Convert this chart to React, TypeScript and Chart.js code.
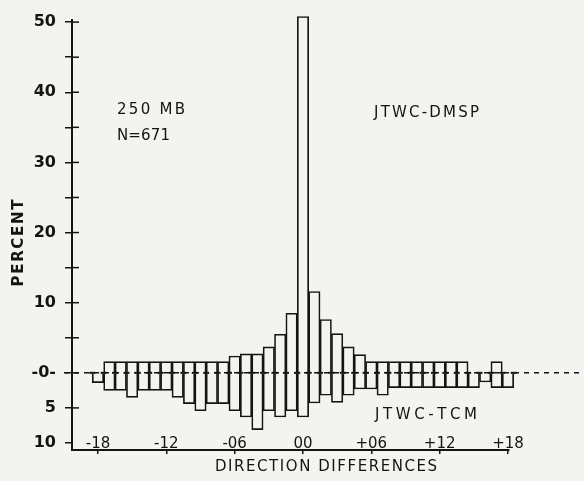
import React, { useEffect, useRef } from "react";
import { Chart, registerables } from "chart.js";

Chart.register(...registerables);

// Direction-difference bins
const bins = [
  -18, -17, -16, -15, -14, -13, -12, -11, -10, -9, -8, -7, -6, -5, -4, -3, -2, -1, 0,
  1, 2, 3, 4, 5, 6, 7, 8, 9, 10, 11, 12, 13, 14, 15, 16, 17, 18,
];

// JTWC-DMSP percent (drawn upward)
const dmspPercent = [
  0, 1.6, 1.6, 1.6, 1.6, 1.6, 1.6, 1.6, 1.6, 1.6, 1.6, 1.6, 2.4, 2.7, 2.7, 3.7, 5.5, 8.5, 50.8,
  11.6, 7.6, 5.6, 3.7, 2.6, 1.6, 1.6, 1.6, 1.6, 1.6, 1.6, 1.6, 1.6, 1.6, 0, 0, 1.6, 0,
];

// JTWC-TCM percent (drawn downward)
const tcmPercent = [
  1.4, 2.5, 2.5, 3.5, 2.5, 2.5, 2.5, 3.5, 4.4, 5.4, 4.4, 4.4, 5.4, 6.3, 8.1, 5.4, 6.3, 5.4, 6.3,
  4.3, 3.2, 4.2, 3.2, 2.3, 2.3, 3.2, 2.1, 2.1, 2.1, 2.1, 2.1, 2.1, 2.1, 2.1, 1.3, 2.1, 2.1,
];

const xTickValues = [-18, -12, -6, 0, 6, 12, 18];
const xTickLabels = ["-18", "-12", "-06", "00", "+06", "+12", "+18"];
const yTickValues = [-10, -5, 0, 5, 10, 15, 20, 25, 30, 35, 40, 45, 50];

const INK = "#141414";
const PAPER = "#f3f3f0";
const FONT = "'DejaVu Sans', 'Liberation Sans', Arial, sans-serif";

function drawFit(
  ctx: CanvasRenderingContext2D,
  text: string,
  x: number,
  y: number,
  width: number,
  align: "left" | "center"
) {
  const chars = Array.from(text);
  const widths = chars.map((c) => ctx.measureText(c).width);
  const total = widths.reduce((a, b) => a + b, 0);
  const gap = chars.length > 1 ? (width - total) / (chars.length - 1) : 0;
  let cx = align === "center" ? x - width / 2 : x;
  ctx.textAlign = "left";
  chars.forEach((c, i) => {
    ctx.fillText(c, cx, y);
    cx += widths[i] + gap;
  });
}

const decorPlugin = {
  id: "decor",
  afterDraw(chart: any) {
    const ctx: CanvasRenderingContext2D = chart.ctx;
    const xs = chart.scales.x;
    const ys = chart.scales.y;
    const area = chart.chartArea;
    const y0 = ys.getPixelForValue(0);
    ctx.save();

    // dashed zero line
    ctx.strokeStyle = INK;
    ctx.lineWidth = 1.5;
    ctx.setLineDash([5, 5]);
    ctx.beginPath();
    ctx.moveTo(area.left - 8, y0);
    ctx.lineTo(chart.width, y0);
    ctx.stroke();
    ctx.setLineDash([]);

    // plus markers at bin boundaries
    ctx.lineWidth = 2;
    const edges = new Set<number>();
    bins.forEach((b, i) => {
      if (dmspPercent[i] > 0 || tcmPercent[i] > 0) {
        edges.add(b - 0.5);
        edges.add(b + 0.5);
      }
    });
    edges.forEach((e) => {
      const px = xs.getPixelForValue(e);
      ctx.beginPath();
      ctx.moveTo(px - 3, y0);
      ctx.lineTo(px + 3, y0);
      ctx.stroke();
    });

    // inner halves of y ticks
    ctx.lineWidth = 1.5;
    yTickValues.forEach((v) => {
      if (v === -10) return;
      const py = ys.getPixelForValue(v);
      ctx.beginPath();
      ctx.moveTo(area.left, py);
      ctx.lineTo(area.left + 7, py);
      ctx.stroke();
    });

    ctx.fillStyle = INK;
    ctx.textBaseline = "middle";

    // x tick labels (sit above the axis line)
    ctx.font = `15px ${FONT}`;
    ctx.textAlign = "center";
    xTickValues.forEach((v, i) => {
      ctx.fillText(xTickLabels[i], xs.getPixelForValue(v), area.bottom - 6);
    });

    // axis titles
    ctx.font = `15px ${FONT}`;
    drawFit(ctx, "DIRECTION DIFFERENCES", 326, 467, 222, "center");
    ctx.save();
    ctx.translate(19, 243);
    ctx.rotate(-Math.PI / 2);
    ctx.font = `bold 15px ${FONT}`;
    drawFit(ctx, "PERCENT", 0, 0, 87, "center");
    ctx.restore();

    // annotations
    ctx.font = `15px ${FONT}`;
    drawFit(ctx, "250 MB", 117, 110, 68, "left");
    drawFit(ctx, "N=671", 117, 136, 53, "left");
    drawFit(ctx, "JTWC-DMSP", 374, 113, 105, "left");
    drawFit(ctx, "JTWC-TCM", 375, 415, 102, "left");

    ctx.restore();
  },
};

export default function App() {
  const ref = useRef<HTMLCanvasElement | null>(null);

  useEffect(() => {
    if (!ref.current) return;
    const barStyle = {
      backgroundColor: "rgba(0,0,0,0)",
      borderColor: INK,
      borderWidth: 1,
      barPercentage: 1,
      categoryPercentage: 1,
      grouped: false,
      clip: false as any,
    };
    const chart = new Chart(ref.current, {
      type: "bar",
      data: {
        datasets: [
          {
            label: "JTWC-DMSP",
            data: bins.map((b, i) => ({ x: b, y: dmspPercent[i] })),
            ...barStyle,
          },
          {
            label: "JTWC-TCM",
            data: bins.map((b, i) => ({ x: b, y: -tcmPercent[i] })),
            ...barStyle,
          },
        ],
      },
      options: {
        animation: false,
        responsive: false,
        maintainAspectRatio: false,
        devicePixelRatio: 1,
        layout: { padding: { top: 20, right: 75, left: 0, bottom: 0 } },
        plugins: { legend: { display: false }, tooltip: { enabled: false } },
        scales: {
          x: {
            type: "linear",
            offset: false,
            min: -20.28,
            max: 18.09,
            afterBuildTicks: (s: any) => {
              s.ticks = xTickValues.map((v) => ({ value: v }));
            },
            afterFit: (s: any) => {
              s.height = 31;
            },
            ticks: { display: false },
            grid: {
              offset: false,
              drawOnChartArea: false,
              drawTicks: true,
              tickLength: 4,
              color: INK,
              lineWidth: 1.5,
            },
            border: { color: INK, width: 2 },
          },
          y: {
            type: "linear",
            min: -11,
            max: 50.3,
            afterBuildTicks: (s: any) => {
              s.ticks = yTickValues.map((v) => ({ value: v }));
            },
            afterFit: (s: any) => {
              s.width = 72;
            },
            ticks: {
              autoSkip: false,
              padding: 9,
              color: INK,
              font: { family: FONT, size: 16, weight: "bold" },
              callback: (value: any) => {
                const v = Number(value);
                if (v === 0) return "-0-";
                if (v < 0) return String(-v);
                return v % 10 === 0 ? String(v) : "";
              },
            },
            grid: {
              drawOnChartArea: false,
              drawTicks: true,
              tickLength: 7,
              color: INK,
              lineWidth: 1.5,
            },
            border: { color: INK, width: 2 },
          },
        },
      },
      plugins: [decorPlugin],
    } as any);
    return () => chart.destroy();
  }, []);

  return (
    <div
      style={{
        position: "fixed",
        left: 0,
        top: 0,
        width: 584,
        height: 481,
        background: PAPER,
      }}
    >
      <canvas ref={ref} width={584} height={481} style={{ display: "block" }} />
    </div>
  );
}
